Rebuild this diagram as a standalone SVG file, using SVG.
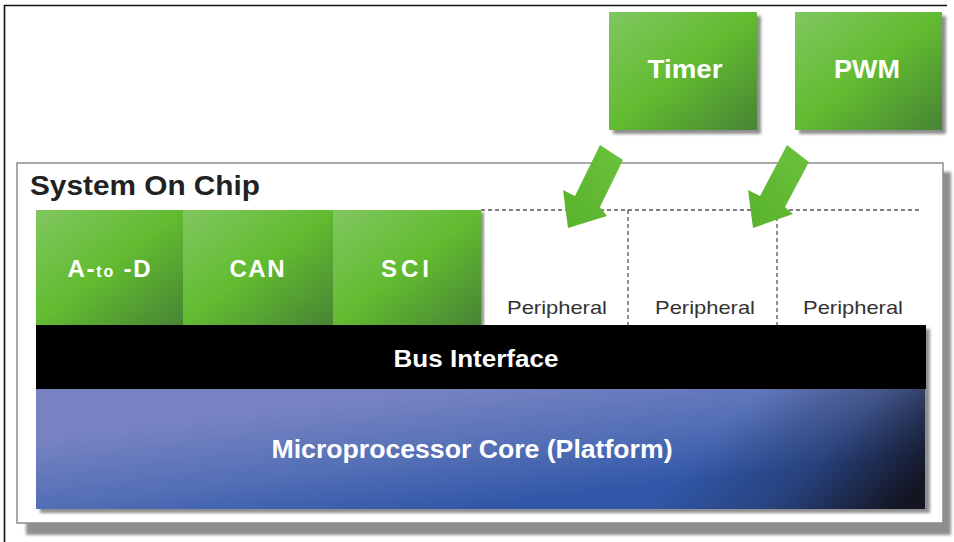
<svg xmlns="http://www.w3.org/2000/svg" width="954" height="542" viewBox="0 0 954 542">
  <style>
    .lbl { font-family: "Liberation Sans", Arial, Helvetica, sans-serif; font-weight: bold; fill: #ffffff; text-anchor: middle; }
    .green { font-size: 24px; }
    .per { font-family: "Liberation Sans", Arial, Helvetica, sans-serif; font-size: 19px; fill: #333333; text-anchor: middle; }
    .title { font-family: "Liberation Sans", Arial, Helvetica, sans-serif; font-weight: bold; font-size: 28px; fill: #222222; }
    .dash { stroke: #555555; stroke-width: 1.3; stroke-dasharray: 4 3; fill: none; }
    .shadow { fill: #8f8f8f; filter: url(#soft); }
    .arrow { fill: url(#arrowGrad); }
  </style>
  <defs>
    <filter id="soft" x="-5%" y="-5%" width="110%" height="110%">
      <feGaussianBlur stdDeviation="1.5"/>
    </filter>
    <linearGradient id="greenGrad" x1="0" y1="0" x2="1" y2="1">
      <stop offset="0" stop-color="#80c760"/>
      <stop offset="0.5" stop-color="#62bb30"/>
      <stop offset="1" stop-color="#478434"/>
    </linearGradient>
    <linearGradient id="arrowGrad" x1="1" y1="0" x2="0" y2="1">
      <stop offset="0" stop-color="#6cc23c"/>
      <stop offset="1" stop-color="#58b22c"/>
    </linearGradient>
    <linearGradient id="coreBase" gradientUnits="userSpaceOnUse" x1="460" y1="389" x2="475" y2="509">
      <stop offset="0" stop-color="#7682c2"/>
      <stop offset="0.5" stop-color="#5570b6"/>
      <stop offset="1" stop-color="#3157a8"/>
    </linearGradient>
    <linearGradient id="coreDark" gradientUnits="userSpaceOnUse" x1="740" y1="410" x2="870" y2="535">
      <stop offset="0" stop-color="#12121c" stop-opacity="0"/>
      <stop offset="0.5" stop-color="#12121c" stop-opacity="0.3"/>
      <stop offset="1" stop-color="#12121c" stop-opacity="0.95"/>
    </linearGradient>
  </defs>

  <!-- page frame -->
  <rect x="0" y="0" width="954" height="542" fill="#ffffff"/>
  <path d="M4.5 542 V5.5 H947" fill="none" stroke="#111111" stroke-width="1.6"/>

  <!-- System On Chip container -->
  <g id="soc">
    <rect class="shadow" x="26" y="172" width="925" height="363"/>
    <rect x="17" y="163" width="926" height="360" fill="#ffffff" stroke="#8c8c8c" stroke-width="1.5"/>
    <text class="title" x="30" y="195" textLength="230" lengthAdjust="spacingAndGlyphs">System On Chip</text>
  </g>

  <!-- peripheral slots -->
  <g id="peripherals">
    <path class="dash" d="M481 210 H922 M628 210 V325 M777 210 V325"/>
  </g>
  <g id="periph1"><text class="per" x="557" y="314" textLength="100" lengthAdjust="spacingAndGlyphs">Peripheral</text></g>
  <g id="periph2"><text class="per" x="705" y="314" textLength="100" lengthAdjust="spacingAndGlyphs">Peripheral</text></g>
  <g id="periph3"><text class="per" x="853" y="314" textLength="100" lengthAdjust="spacingAndGlyphs">Peripheral</text></g>

  <!-- on-chip modules -->
  <rect class="shadow" x="478" y="212" width="6" height="115"/>
  <g id="atod">
    <rect x="36" y="210" width="147" height="115" fill="url(#greenGrad)"/>
    <text class="lbl green" x="109" y="277" textLength="83" lengthAdjust="spacing">A-<tspan font-size="16">to</tspan> -D</text>
  </g>
  <g id="can">
    <rect x="183" y="210" width="150" height="115" fill="url(#greenGrad)"/>
    <text class="lbl green" x="257" y="277" textLength="55" lengthAdjust="spacing">CAN</text>
  </g>
  <g id="sci">
    <rect x="333" y="210" width="148" height="115" fill="url(#greenGrad)"/>
    <text class="lbl green" x="407" y="277" letter-spacing="4">SCI</text>
  </g>

  <!-- bus and core -->
  <rect class="shadow" x="40" y="329" width="890" height="184"/>
  <g id="bus">
    <rect x="36" y="325" width="890" height="64" fill="#000000"/>
    <text class="lbl" font-size="24" x="476" y="367" textLength="165" lengthAdjust="spacingAndGlyphs">Bus Interface</text>
  </g>
  <g id="core">
    <rect x="36" y="389" width="889" height="120" fill="url(#coreBase)"/>
    <rect x="36" y="389" width="889" height="120" fill="url(#coreDark)"/>
    <text class="lbl" font-size="25" x="472" y="458" fill="#f2f4ff" textLength="401" lengthAdjust="spacingAndGlyphs">Microprocessor Core (Platform)</text>
  </g>

  <!-- external modules -->
  <g id="timer">
    <rect class="shadow" x="613" y="16" width="148" height="118"/>
    <rect x="609" y="12" width="148" height="118" fill="url(#greenGrad)"/>
    <text class="lbl" font-size="25" x="685" y="78" textLength="75" lengthAdjust="spacingAndGlyphs">Timer</text>
  </g>
  <g id="pwm">
    <rect class="shadow" x="799" y="16" width="147" height="118"/>
    <rect x="795" y="12" width="147" height="118" fill="url(#greenGrad)"/>
    <text class="lbl" font-size="25" x="867" y="78" textLength="66" lengthAdjust="spacingAndGlyphs">PWM</text>
  </g>

  <!-- connectors -->
  <g id="connectors">
    <polygon class="arrow" points="600,145 623,160 600,207 607,216 568,228 563,190 575,196"/>
    <polygon class="arrow" points="787,145 809,162 785,207 793,214 753,228 748,190 760,196"/>
  </g>
</svg>
